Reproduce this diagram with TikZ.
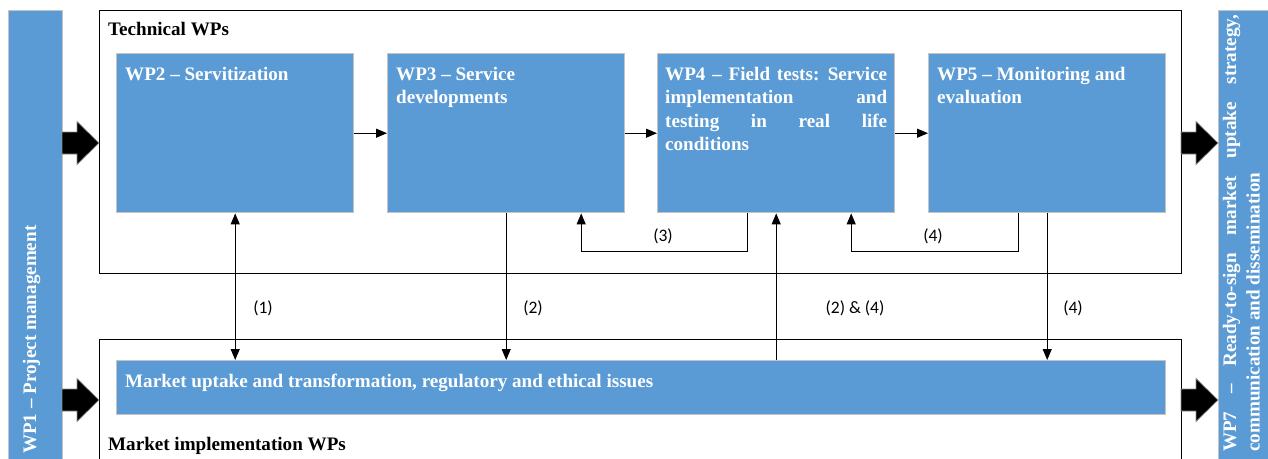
\documentclass[tikz,border=0pt]{standalone}
\usepackage{fontspec}
\setmainfont{Liberation Serif}
\newfontfamily\labelfont{Carlito}
\usetikzlibrary{arrows.meta,calc}
\definecolor{wpblue}{HTML}{5B9BD5}
\definecolor{wpedge}{HTML}{C4C4C4}

% stacked lines with a fixed line pitch; the baseline is that of the first line
\newcommand\stacklines[1]{\vtop{\baselineskip=23.5pt #1}}
% thick black block arrow: start x, tip x, centre y
\newcommand\blockarrow[3]{%
  \filldraw[bigarrow] (#1,#3-11) -- (#2-22,#3-11) -- (#2-22,#3-21.5) -- (#2,#3)
    -- (#2-22,#3+21.5) -- (#2-22,#3+11) -- (#1,#3+11) -- cycle;}

\begin{document}
\begin{tikzpicture}[x=1pt,y=-1pt,
  wpbox/.style={rectangle, fill=wpblue, draw=wpedge, line width=1.4pt,
    inner sep=0pt, anchor=north west},
  group/.style={rectangle, draw=black, line width=1.1pt, inner sep=0pt,
    anchor=north west},
  wptext/.style={anchor=base west, inner sep=0pt, text=white,
    font=\fontsize{19.1}{23.5}\selectfont\bfseries},
  grptitle/.style={anchor=base west, inner sep=0pt,
    font=\fontsize{19.1}{23.5}\selectfont\bfseries},
  flow/.style={line width=1.1pt, -{Triangle[length=11pt,width=9pt]}},
  both/.style={line width=1.1pt,
    {Triangle[length=11pt,width=9pt]}-{Triangle[length=11pt,width=9pt]}},
  tag/.style={inner sep=0pt, font=\labelfont\fontsize{17.5}{20}\selectfont},
  bigarrow/.style={fill=black, draw=black!45, line width=0.7pt},
]
\useasboundingbox (0,0) rectangle (1268,458);
\clip (0,0) rectangle (1268,458);

% side bars
\node[wpbox, minimum width=54pt, minimum height=470pt] (wp1) at (8,10) {};
\node[wpbox, minimum width=70pt, minimum height=470pt] (wp7) at (1218,10) {};
\node[wptext, rotate=90] (wp1t) at (36,454) {WP1 – Project management};
\node[wptext, rotate=90] (wp7t) at (1236,452)
  {\hbox to 437pt{WP7 \hfill – \hfill Ready-to-sign \hfill market \hfill uptake \hfill strategy,}};
\node[wptext, rotate=90] (wp7u) at (1259.5,452) {communication and dissemination};

% group frames
\node[group, minimum width=1082pt, minimum height=263pt] (tech) at (99,10) {};
\node[group, minimum width=1082pt, minimum height=140pt] (mkt) at (99,339) {};
\node[grptitle] (techt) at (108,35) {Technical WPs};
\node[grptitle] (mktt) at (108,450) {Market implementation WPs};

% work packages
\node[wpbox, minimum width=237pt, minimum height=159pt] (wp2) at (116,53) {};
\node[wpbox, minimum width=237pt, minimum height=159pt] (wp3) at (387,53) {};
\node[wpbox, minimum width=237pt, minimum height=159pt] (wp4) at (657,53) {};
\node[wpbox, minimum width=237pt, minimum height=159pt] (wp5) at (928,53) {};
\node[wpbox, minimum width=1049pt, minimum height=54pt] (mut) at (116,360) {};

\node[wptext] (wp2t) at (125,80) {WP2 – Servitization};
\node[wptext] (wp3t) at (396,80) {\stacklines{\hbox{WP3 – Service}\hbox{developments}}};
\node[wptext] (wp4t) at (665,80) {\stacklines{%
  \hbox to 222pt{WP4 \hfill – \hfill Field \hfill tests: \hfill Service}%
  \hbox to 222pt{implementation \hfill and}%
  \hbox to 222pt{testing \hfill in \hfill real \hfill life}%
  \hbox{conditions}}};
\node[wptext] (wp5t) at (937,80) {\stacklines{\hbox{WP5 – Monitoring and}\hbox{evaluation}}};
\node[wptext] (mutt) at (125,387) {Market uptake and transformation, regulatory and ethical issues};

% block arrows into and out of the groups
\blockarrow{62}{99}{143}
\blockarrow{62}{99}{400}
\blockarrow{1181}{1218}{143}
\blockarrow{1181}{1218}{400}

% flow between work packages
\draw[flow] (wp2.east) -- (wp3.west);
\draw[flow] (wp3.east) -- (wp4.west);
\draw[flow] (wp4.east) -- (wp5.west);
\draw[both] (wp2.south) -- (wp2.south |- mut.north);
\draw[flow] (wp3.south) -- (wp3.south |- mut.north);
\draw[flow] (wp4.south |- mut.north) -- (wp4.south);
\draw[flow] (wp5.south) -- (wp5.south |- mut.north);
\draw[flow] ([xshift=-29pt]wp4.south) -- ++(0,38) -| ([xshift=75pt]wp3.south);
\draw[flow] ([xshift=-29pt]wp5.south) -- ++(0,38) -| ([xshift=75pt]wp4.south);

% connector labels
\node[tag] (l1) at (263,308) {(1)};
\node[tag] (l2) at (533,308) {(2)};
\node[tag] (l24) at (855,308) {(2) \& (4)};
\node[tag] (l4b) at (1073,308) {(4)};
\node[tag] (l3) at (663,236) {(3)};
\node[tag] (l4a) at (933,236) {(4)};
\end{tikzpicture}
\end{document}
